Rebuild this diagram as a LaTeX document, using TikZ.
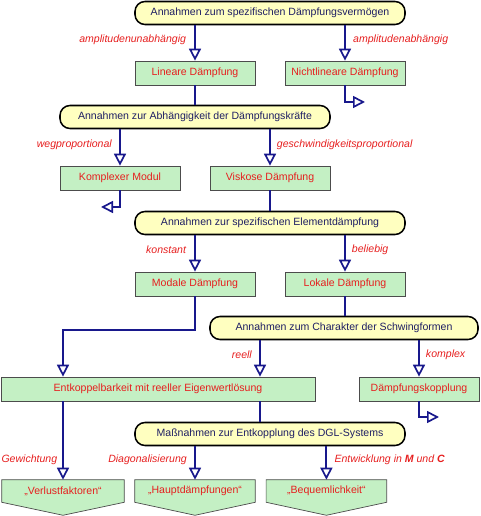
\documentclass[tikz,border=0pt]{standalone}
\usepackage{fontspec}
\setmainfont{Liberation Sans}
\usetikzlibrary{arrows.meta,positioning,backgrounds}
\definecolor{pillfill}{RGB}{255,255,192}
\definecolor{boxfill}{RGB}{196,240,196}
\definecolor{navy}{RGB}{24,24,140}
\definecolor{txtred}{RGB}{230,30,30}
\definecolor{txtblue}{RGB}{30,30,100}
\begin{document}
\begin{tikzpicture}[
  font=\fontsize{7.5}{9}\selectfont,
  annahme/.style={draw=black, line width=1.1pt, fill=pillfill, rounded corners=0.25cm,
    minimum width=6.75cm, minimum height=0.575cm, text=txtblue, inner sep=0pt},
  fall/.style={draw=black!70, line width=0.5pt, fill=boxfill, minimum width=3cm,
    minimum height=0.6cm, text=txtred, inner sep=0pt},
  ziel/.style={minimum width=3cm, minimum height=0.55cm, text=txtred, inner sep=0pt},
  wire/.style={draw=navy, line width=1.4pt},
  flow/.style={wire, -{Triangle[fill=white, length=0.3cm, width=0.3cm, line width=1.2pt]}},
  lbl/.style={text=txtred, font=\fontsize{7.5}{9}\selectfont\itshape, inner sep=0pt}
]
  \useasboundingbox (0,0) rectangle (12,12.9);
  % Daempfungsvermoegen
  \node[annahme] (a1) at (6.75,12.575) {Annahmen zum spezifischen Dämpfungsvermögen};
  \node[fall] (lin) at (4.875,11.075) {Lineare Dämpfung};
  \node[fall] (nlin) at (8.625,11.075) {Nichtlineare Dämpfung};
  % Daempfungskraefte
  \node[annahme] (a2) at (4.875,9.975) {Annahmen zur Abhängigkeit der Dämpfungskräfte};
  \node[fall] (kmod) at (3,8.45) {Komplexer Modul};
  \node[fall] (visk) at (6.75,8.45) {Viskose Dämpfung};
  % Elementdaempfung
  \node[annahme] (a3) at (6.75,7.325) {Annahmen zur spezifischen Elementdämpfung};
  \node[fall] (mod) at (4.875,5.8) {Modale Dämpfung};
  \node[fall] (lok) at (8.625,5.8) {Lokale Dämpfung};
  % Schwingformen
  \node[annahme, minimum width=6.7cm] (a4) at (8.6,4.7) {Annahmen zum Charakter der Schwingformen};
  \node[fall, minimum width=7.85cm] (ent) at (3.95,3.175) {Entkoppelbarkeit mit reeller Eigenwertlösung};
  \node[fall] (dkop) at (10.475,3.175) {Dämpfungskopplung};
  % Entkopplung
  \node[annahme] (a5) at (6.75,2.05) {Maßnahmen zur Entkopplung des DGL-Systems};
  \node[ziel, minimum width=3.05cm] (verl) at (1.575,0.625) {„Verlustfaktoren“};
  \node[ziel] (haupt) at (4.875,0.625) {„Hauptdämpfungen“};
  \node[ziel] (bequ) at (8.16,0.625) {„Bequemlichkeit“};
  \begin{scope}[on background layer]
    \foreach \z in {verl,haupt,bequ}
      \draw[draw=black!70, line width=0.5pt, fill=boxfill] (\z.north west) -- (\z.north east)
        -- (\z.south east) -- ([yshift=-0.325cm]\z.south) -- (\z.south west) -- cycle;
  \end{scope}

  \coordinate (nlinend) at (9.125,10.35);
  \coordinate (kmodend) at (2.525,7.725);
  \coordinate (dkopend) at (10.975,2.475);
  \coordinate (knick) at (4.875,4.65);
  \coordinate (re) at (6.5,4);

  \draw[flow] (lin |- a1.south) -- node[lbl, left=0.2cm, pos=0.42] {amplitudenunabhängig} (lin.north);
  \draw[flow] (nlin |- a1.south) -- node[lbl, right=0.18cm, pos=0.42] {amplitudenabhängig} (nlin.north);
  \draw[flow] (nlin.south) |- (nlinend);
  \draw[wire] (lin.south) -- (lin |- a2.north);
  \draw[flow] (kmod |- a2.south) -- node[lbl, left=0.18cm, pos=0.42] {wegproportional} (kmod.north);
  \draw[flow] (visk |- a2.south) -- node[lbl, right=0.15cm, pos=0.42] {geschwindigkeitsproportional} (visk.north);
  \draw[flow] (kmod.south) |- (kmodend);
  \draw[wire] (visk.south) -- (visk |- a3.north);
  \draw[flow] (mod |- a3.south) -- node[lbl, left=0.2cm, pos=0.4] {konstant} (mod.north);
  \draw[flow] (lok |- a3.south) -- node[lbl, right=0.15cm, pos=0.4] {beliebig} (lok.north);
  \draw[wire] (lok.south) -- (lok |- a4.north);
  \draw[flow] (mod.south) -- (knick) -| (verl |- ent.north);
  \draw[flow] (re |- a4.south) -- node[lbl, left=0.18cm, pos=0.4] {reell} (re |- ent.north);
  \draw[flow] (dkop |- a4.south) -- node[lbl, right=0.15cm, pos=0.4] {komplex} (dkop.north);
  \draw[flow] (dkop.south) |- (dkopend);
  \draw[wire] (re |- ent.south) -- (re |- a5.north);
  \draw[flow] (verl |- ent.south) -- node[lbl, left=0.12cm, pos=0.74] {Gewichtung} (verl.north);
  \draw[flow] (haupt |- a5.south) -- node[lbl, left=0.18cm, pos=0.4] {Diagonalisierung} (haupt.north);
  \draw[flow] (bequ |- a5.south) -- node[lbl, right=0.18cm, pos=0.4] {Entwicklung in \textbf{M} und \textbf{C}} (bequ.north);
\end{tikzpicture}
\end{document}
